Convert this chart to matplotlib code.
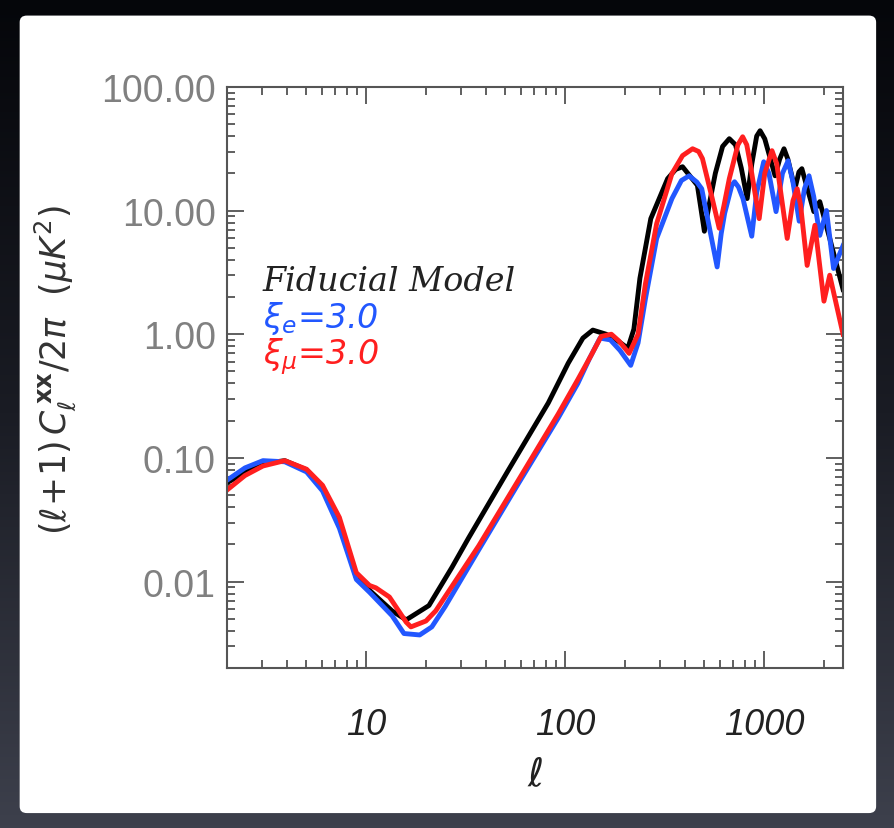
import matplotlib
matplotlib.use('Agg')
import matplotlib.pyplot as plt
from matplotlib.patches import FancyBboxPatch
from matplotlib.ticker import FixedLocator, FixedFormatter, LogLocator, NullFormatter
import numpy as np

# fiducial model (black)
ell_fid = [2, 2.46, 3.03, 3.9, 5.02, 6.04, 7.34, 8.93, 10.4, 13.5, 15.9, 20.7, 27.0, 32.8,
           52.0, 82.4, 103.8, 123, 138, 161, 185, 207, 222, 238, 270, 328, 360, 390, 463,
           502, 530, 570, 620, 670, 720, 770, 824, 870, 920, 957, 1010, 1138, 1200, 1262,
           1320, 1432, 1500, 1552, 1620, 1783, 1910, 2143, 2500]
cl_fid = [0.063, 0.076, 0.090, 0.095, 0.080, 0.057, 0.031, 0.0108, 0.0085, 0.0058, 0.0049,
          0.0064, 0.013, 0.0226, 0.080, 0.278, 0.583, 0.93, 1.08, 1.0, 0.88, 0.77, 1.1,
          2.83, 8.6, 18.1, 21.5, 22.6, 16.0, 6.8, 11.0, 20.0, 33.0, 38.1, 34.0, 22.0, 12.5,
          24.0, 40.0, 44.2, 38.0, 19.1, 26.0, 31.6, 26.0, 15.0, 20.5, 21.8, 17.0, 9.8, 11.8,
          5.95, 2.3]

# xi_e = 3.0 (blue)
ell_xie = [2, 2.46, 3.03, 3.9, 5.02, 6.04, 7.34, 8.93, 10.4, 13.5, 15.5, 18.6, 21.4, 25.0,
           36.8, 58.3, 92.4, 116, 133, 150, 169, 189, 214, 233, 254, 289, 345, 385, 421,
           460, 487, 582, 610, 635, 690, 712, 745, 785, 869, 920, 998, 1060, 1151, 1240,
           1324, 1400, 1505, 1600, 1686, 1780, 1910, 2064, 2240, 2500]
cl_xie = [0.066, 0.083, 0.095, 0.093, 0.077, 0.054, 0.027, 0.0104, 0.0082, 0.0053, 0.0038,
          0.0037, 0.0043, 0.0063, 0.018, 0.062, 0.21, 0.40, 0.64, 0.93, 0.90, 0.74, 0.56,
          0.85, 1.95, 5.95, 12.5, 17.5, 19.1, 17.0, 15.0, 3.5, 6.5, 9.5, 16.0, 17.1, 15.5,
          12.5, 6.2, 14.0, 24.8, 20.0, 9.8, 20.0, 25.3, 17.0, 8.2, 15.0, 19.1, 13.0, 6.3,
          10.0, 3.4, 5.2]

# xi_mu = 3.0 (red)
ell_xim = [2, 2.46, 3.03, 3.9, 5.02, 6.04, 7.34, 8.93, 10.4, 11.2, 13.1, 15.9, 16.8, 20.0,
           22.4, 36.8, 58.3, 92.4, 116, 135, 152, 171, 187, 210, 233, 254, 289, 345, 390,
           438, 470, 491, 550, 596, 630, 670, 740, 782, 820, 845, 947, 1010, 1098, 1160,
           1310, 1400, 1470, 1530, 1650, 1805, 2004, 2143, 2500]
cl_xim = [0.055, 0.072, 0.086, 0.095, 0.081, 0.060, 0.033, 0.0118, 0.0093, 0.0089, 0.0075,
          0.0047, 0.0043, 0.0048, 0.0058, 0.0194, 0.066, 0.226, 0.43, 0.67, 0.96, 1.0, 0.88,
          0.70, 1.0, 2.58, 7.85, 19.9, 27.8, 31.6, 30.0, 26.3, 12.5, 7.2, 11.0, 18.1, 34.0,
          39.5, 34.0, 26.3, 8.6, 20.0, 30.5, 24.0, 5.95, 12.0, 15.0, 11.0, 3.6, 7.6, 1.85,
          3.0, 1.0]

y_ticks = [0.01, 0.1, 1, 10, 100]
y_ticklabels = ['0.01', '0.10', '1.00', '10.00', '100.00']
x_ticks = [10, 100, 1000]
x_ticklabels = ['10', '100', '1000']

fig = plt.figure(figsize=(8.94, 8.29), dpi=100)

# dark slide background with a white panel
bg = fig.add_axes([0, 0, 1, 1], zorder=-10)
grad = np.linspace(0, 1, 256).reshape(-1, 1)
bg.imshow(grad, aspect='auto', cmap=matplotlib.colors.LinearSegmentedColormap.from_list(
    'slide', ['#05060a', '#1a1c24', '#3d404c']), extent=[0, 1, 0, 1], origin='upper')
bg.set_xlim(0, 1)
bg.set_ylim(0, 1)
bg.axis('off')
panel = FancyBboxPatch((0.022, 0.018), 0.958, 0.962, boxstyle='round,pad=0,rounding_size=0.008',
                       transform=bg.transAxes, facecolor='white', edgecolor='none')
bg.add_patch(panel)

ax = fig.add_axes([0.254, 0.193, 0.689, 0.701])
ax.plot(ell_fid, cl_fid, color='black', lw=3.5, solid_joinstyle='round')
ax.plot(ell_xie, cl_xie, color='#2257ff', lw=3.5, solid_joinstyle='round')
ax.plot(ell_xim, cl_xim, color='#ff1f1f', lw=3.5, solid_joinstyle='round')

ax.set_xscale('log')
ax.set_yscale('log')
ax.set_xlim(2, 2500)
ax.set_ylim(0.002, 100)

ax.xaxis.set_major_locator(FixedLocator(x_ticks))
ax.xaxis.set_major_formatter(FixedFormatter(x_ticklabels))
ax.yaxis.set_major_locator(FixedLocator(y_ticks))
ax.yaxis.set_major_formatter(FixedFormatter(y_ticklabels))
ax.xaxis.set_minor_locator(LogLocator(base=10, subs=np.arange(2, 10)))
ax.yaxis.set_minor_locator(LogLocator(base=10, subs=np.arange(2, 10)))
ax.xaxis.set_minor_formatter(NullFormatter())
ax.yaxis.set_minor_formatter(NullFormatter())

ax.tick_params(which='both', direction='in', top=True, right=True, color='#444444', width=1.2)
ax.tick_params(which='major', length=12)
ax.tick_params(which='minor', length=6)
ax.tick_params(axis='y', which='major', pad=8, labelsize=27, labelcolor='#808080')
ax.tick_params(axis='x', which='major', pad=28, labelsize=26, labelcolor='#222222')
for lab in ax.get_yticklabels():
    lab.set_family('Liberation Sans')
for lab in ax.get_xticklabels():
    lab.set_family('Liberation Sans')
    lab.set_style('italic')
for sp in ax.spines.values():
    sp.set_color('#555555')
    sp.set_linewidth(1.5)

ax.text(0.058, 0.650, 'Fiducial Model', transform=ax.transAxes, family='DejaVu Serif',
        style='italic', fontsize=24, color='#222222', va='baseline')
ax.text(0.058, 0.587, r'$\xi_e$=3.0', transform=ax.transAxes, fontsize=24,
        style='italic', color='#2257ff', va='baseline')
ax.text(0.058, 0.524, r'$\xi_\mu$=3.0', transform=ax.transAxes, fontsize=24,
        style='italic', color='#ff1f1f', va='baseline')

fig.text(55 / 894, 1 - 370 / 829, r'$(\ell\!+\!1)\,C_\ell^{\,\mathbf{xx}}/2\pi\ \ (\mu K^2)$',
         rotation=90, ha='center', va='center', fontsize=25, color='#333333')
fig.text(535 / 894, 1 - 775 / 829, r'$\ell$', ha='center', va='center', fontsize=28,
         color='#222222')

fig.savefig('out.png', dpi=100, facecolor=fig.get_facecolor())
